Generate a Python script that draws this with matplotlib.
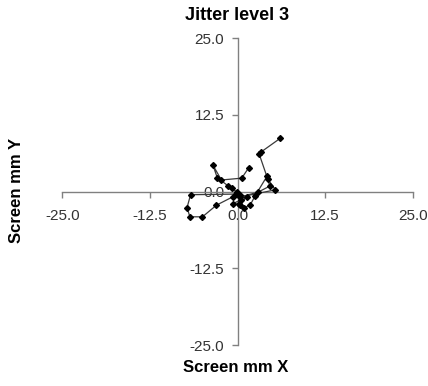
import numpy as np
import matplotlib
matplotlib.use("Agg")
import matplotlib.pyplot as plt

# =============================================================================
# Data (screen position in mm)
# =============================================================================
x_mm = [1.6, 0.6, -2.3, -3.5, -2.9, -1.3, -0.8, -0.1, 0.4, -0.6,
        -3.0, -5.0, -6.8, -7.2, -6.7, -0.2, 0.5, -0.7, 0.4, 1.3,
        0.2, 0.9, 1.8, 2.5, 4.2, 4.6, 2.9, 0.3, 5.4, 4.3,
        3.1, 3.4, 6.1]
y_mm = [3.9, 2.2, 1.9, 4.3, 2.3, 0.9, 0.6, -0.1, -0.6, -0.8,
        -2.2, -4.1, -4.1, -2.6, -0.5, -0.4, -1.3, -2.0, -2.1, -0.8,
        -2.0, -2.6, -2.2, -0.7, 2.5, 0.9, -0.1, -0.9, 0.3, 2.1,
        6.1, 6.5, 8.7]

ticks = [-25.0, -12.5, 0.0, 12.5, 25.0]

# =============================================================================
# Plot
# =============================================================================
plt.rcParams['font.family'] = ['Liberation Sans', 'DejaVu Sans']

fig = plt.figure(figsize=(4.28, 3.86), dpi=100)
ax = fig.add_axes([0.1456, 0.1062, 0.8187, 0.7946])

ax.plot(x_mm, y_mm, color='#3a3a3a', lw=0.9, marker='D', markersize=3.0,
        markerfacecolor='black', markeredgecolor='black', zorder=3)

ax.set_xlim(-25, 25)
ax.set_ylim(-25, 25)
ax.spines['left'].set_position('zero')
ax.spines['bottom'].set_position('zero')
ax.spines['top'].set_visible(False)
ax.spines['right'].set_visible(False)
for s in ('left', 'bottom'):
    ax.spines[s].set_color('#808080')
    ax.spines[s].set_linewidth(1.0)

ax.set_xticks(ticks)
ax.set_yticks(ticks)
ax.set_xticklabels([f"{t:.1f}" for t in ticks])
ax.set_yticklabels([f"{t:.1f}" for t in ticks])
ax.tick_params(axis='x', direction='out', length=4, width=1.0, color='#808080',
               labelsize=11, pad=8.5, labelcolor='#333333')
ax.tick_params(axis='y', direction='out', length=4, width=1.0, color='#808080',
               labelsize=11, pad=5.5, labelcolor='#333333')
ax.patch.set_visible(False)

fig.text(237 / 428, 1 - 15 / 386, "Jitter level 3", ha='center', va='center',
         fontsize=13, fontweight='bold')
fig.text(236 / 428, 1 - 368 / 386, "Screen mm X", ha='center', va='center',
         fontsize=12, fontweight='bold')
fig.text(17 / 428, 1 - 190 / 386, "Screen mm Y", ha='center', va='center',
         rotation=90, fontsize=12, fontweight='bold')

fig.savefig("out.png", dpi=100)
